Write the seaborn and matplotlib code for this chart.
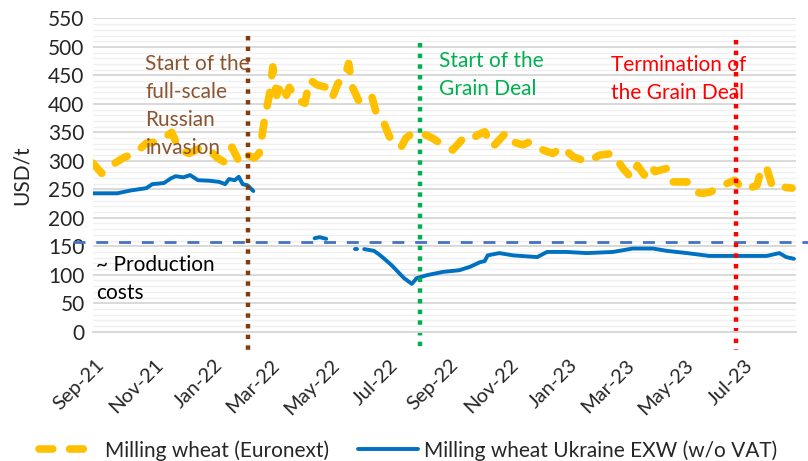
import pandas as pd
import numpy as np
import matplotlib
matplotlib.use("Agg")
import matplotlib.pyplot as plt
from matplotlib.ticker import MultipleLocator
from matplotlib.transforms import ScaledTranslation
import seaborn as sns

# Milling wheat, Euronext (USD/t)
euronext_dates = [
    "2021-09-01", "2021-09-10", "2021-09-20", "2021-10-03", "2021-10-14", "2021-10-26",
    "2021-11-05", "2021-11-13", "2021-11-21", "2021-11-29", "2021-12-09", "2021-12-22",
    "2021-12-30", "2022-01-07", "2022-01-14", "2022-01-22", "2022-01-30", "2022-02-07",
    "2022-02-14", "2022-02-19", "2022-02-22", "2022-02-25", "2022-03-02", "2022-03-05",
    "2022-03-09", "2022-03-14", "2022-03-19", "2022-03-22", "2022-03-30", "2022-04-07",
    "2022-04-12", "2022-04-20", "2022-04-29", "2022-05-05", "2022-05-11", "2022-05-18",
    "2022-05-22", "2022-05-26", "2022-06-02", "2022-06-09", "2022-06-15", "2022-06-20",
    "2022-06-27", "2022-07-03", "2022-07-10", "2022-07-15", "2022-07-20", "2022-07-26",
    "2022-08-06", "2022-08-16", "2022-08-27", "2022-09-06", "2022-09-15", "2022-09-24",
    "2022-10-01", "2022-10-09", "2022-10-17", "2022-10-30", "2022-11-02", "2022-11-17",
    "2022-11-24", "2022-12-08", "2022-12-18", "2022-12-28", "2023-01-08", "2023-01-23",
    "2023-02-04", "2023-02-18", "2023-02-28", "2023-03-09", "2023-03-15", "2023-03-22",
    "2023-03-29", "2023-04-02", "2023-04-15", "2023-04-20", "2023-05-05", "2023-05-13",
    "2023-05-21", "2023-05-28", "2023-06-08", "2023-06-15", "2023-06-23", "2023-06-28",
    "2023-07-04", "2023-07-16", "2023-07-21", "2023-07-26", "2023-08-01", "2023-08-11",
    "2023-08-21",
]
euronext_prices = [
    296, 278, 292, 306, 313, 331,
    333, 340, 350, 319, 313, 324,
    319, 305, 298, 324, 296, 310,
    305, 313, 345, 378, 420, 465,
    415, 436, 415, 429, 407, 401,
    442, 433, 429, 410, 436, 447,
    471, 429, 403, 412, 412, 380,
    368, 342, 336, 324, 340, 348,
    348, 340, 328, 319, 336, 333,
    345, 351, 324, 348, 336, 328,
    333, 319, 313, 324, 307, 298,
    310, 313, 287, 270, 292, 275,
    292, 281, 287, 263, 263, 245,
    243, 245, 252, 260, 266, 257,
    249, 257, 289, 287, 254, 254,
    252,
]

# Milling wheat Ukraine EXW w/o VAT (USD/t); the series has gaps in spring 2022
ukraine_dates = [
    "2021-09-01", "2021-09-13", "2021-09-26", "2021-10-10", "2021-10-26", "2021-11-01",
    "2021-11-13", "2021-11-20", "2021-11-25", "2021-12-03", "2021-12-10", "2021-12-18",
    "2021-12-30", "2022-01-09", "2022-01-15", "2022-01-19", "2022-01-25", "2022-01-29",
    "2022-02-02", "2022-02-07", "2022-02-13",
    "2022-04-17", "2022-04-22", "2022-04-29",
    "2022-05-29", "2022-05-31",
    "2022-06-07", "2022-06-17", "2022-06-22", "2022-06-27", "2022-07-05", "2022-07-18",
    "2022-07-26", "2022-07-31", "2022-08-10", "2022-08-27", "2022-09-13", "2022-09-24",
    "2022-10-04", "2022-10-09", "2022-10-12", "2022-10-24", "2022-11-07", "2022-12-02",
    "2022-12-12", "2023-01-01", "2023-01-22", "2023-02-18", "2023-03-10", "2023-03-31",
    "2023-04-14", "2023-05-05", "2023-05-28", "2023-07-26", "2023-08-08", "2023-08-15",
    "2023-08-23",
]
ukraine_prices = [
    243, 243, 243, 248, 252, 259,
    261, 269, 273, 271, 275, 266,
    265, 263, 259, 268, 266, 272,
    259, 257, 247,
    164, 166, 163,
    145, 145,
    145, 142, 136, 129, 117, 94,
    84, 94, 99, 105, 108, 114,
    122, 124, 134, 138, 134, 131,
    140, 140, 138, 140, 146, 146,
    142, 138, 133, 133, 138, 131,
    128,
]
ukraine_segment = [1] * 21 + [2] * 3 + [3] * 2 + [4] * 31

production_cost = 157

event_dates = ["2022-02-07", "2022-08-03", "2023-06-24"]
event_labels = [
    "Start of the\nfull-scale\nRussian\ninvasion",
    "Start of the\nGrain Deal",
    "Termination of\nthe Grain Deal",
]
event_colors = ["#843C0C", "#00B050", "#FF0000"]
event_text_colors = ["#8B5530", "#00B050", "#FF0000"]

tick_labels = ["Sep-21", "Nov-21", "Jan-22", "Mar-22", "May-22", "Jul-22",
               "Sep-22", "Nov-22", "Jan-23", "Mar-23", "May-23", "Jul-23"]

euro = pd.DataFrame({"date": pd.to_datetime(euronext_dates), "price": euronext_prices})
ukr = pd.DataFrame({"date": pd.to_datetime(ukraine_dates), "price": ukraine_prices,
                    "segment": ukraine_segment})

sns.set_theme(style="white")
plt.rcParams["font.family"] = ["Lato", "DejaVu Sans"]
FS = 15

fig = plt.figure(figsize=(8.08, 4.61), dpi=100)
ax = fig.add_axes([0.115, 0.2805, 0.870, 0.6795])

# grid: major every 50, minor every 10
ax.yaxis.set_major_locator(MultipleLocator(50))
ax.yaxis.set_minor_locator(MultipleLocator(10))
ax.grid(axis="y", which="major", color="#D9D9D9", lw=1.4)
ax.grid(axis="y", which="minor", color="#EFEFEF", lw=0.9)
ax.set_axisbelow(True)

sns.lineplot(data=euro, x="date", y="price", ax=ax, color="#FFC000", lw=5.5,
             label="Milling wheat (Euronext)")
yl = ax.lines[-1]
yl.set_dashes([1.8, 2.2])
yl.set_dash_capstyle("round")
yl.set_solid_capstyle("round")

sns.lineplot(data=ukr, x="date", y="price", units="segment", estimator=None, ax=ax,
             color="#0070C0", lw=2.8)
bl = ax.lines[-1]

# production cost level, runs past the plot area
ax.plot([-0.028, 1.03], [production_cost, production_cost], color="#4472C4", lw=2.0,
        dashes=(4.3, 3.9), transform=ax.get_yaxis_transform(), clip_on=False)
ax.text(pd.Timestamp("2021-09-04"), 134, "~ Production\ncosts", fontsize=FS,
        color="black", va="top", ha="left", linespacing=1.49)

event_tops = [520, 506, 512]
text_pos = [("2021-10-25", 487), ("2022-08-23", 493), ("2023-02-16", 486)]
for d, lab, c, tc, top, (tx, ty) in zip(event_dates, event_labels, event_colors,
                                         event_text_colors, event_tops, text_pos):
    d = pd.Timestamp(d)
    ax.plot([d, d], [top, -32], color=c, lw=3.2, dashes=(1, 1.4), clip_on=False,
            solid_capstyle="butt", dash_capstyle="butt")
    ax.text(pd.Timestamp(tx), ty, lab, color=tc, fontsize=FS, va="top", ha="left",
            linespacing=1.49)

ax.set_xlim(pd.Timestamp("2021-09-01"), pd.Timestamp("2023-08-25"))
ax.set_ylim(0, 550)
ticks = pd.date_range("2021-09-01", "2023-07-01", freq="2MS")
ax.set_xticks(ticks)
ax.set_xticklabels(tick_labels, rotation=45, ha="right", va="center",
                   rotation_mode="anchor", fontsize=14.5)
ax.tick_params(axis="x", length=6, width=1, color="#BFBFBF", pad=16)
shift = ScaledTranslation(0.08, 0, fig.dpi_scale_trans)
for lab in ax.get_xticklabels():
    lab.set_transform(lab.get_transform() + shift)
ax.tick_params(axis="y", length=0, labelsize=FS, pad=6)
ax.set_xlabel("")
ax.set_ylabel("USD/t", fontsize=FS, labelpad=12)

for s in ["top", "right", "left"]:
    ax.spines[s].set_visible(False)
ax.spines["bottom"].set_color("#D9D9D9")
ax.spines["bottom"].set_linewidth(1.4)

ax.get_legend().remove()
fig.legend([yl, bl], ["Milling wheat (Euronext)", "Milling wheat Ukraine EXW (w/o VAT)"],
           loc="lower center", bbox_to_anchor=(0.505, -0.04), ncol=2, frameon=False,
           fontsize=15, handlelength=2.9, handletextpad=0.25, columnspacing=1.4)

fig.savefig("out.png", dpi=100)
